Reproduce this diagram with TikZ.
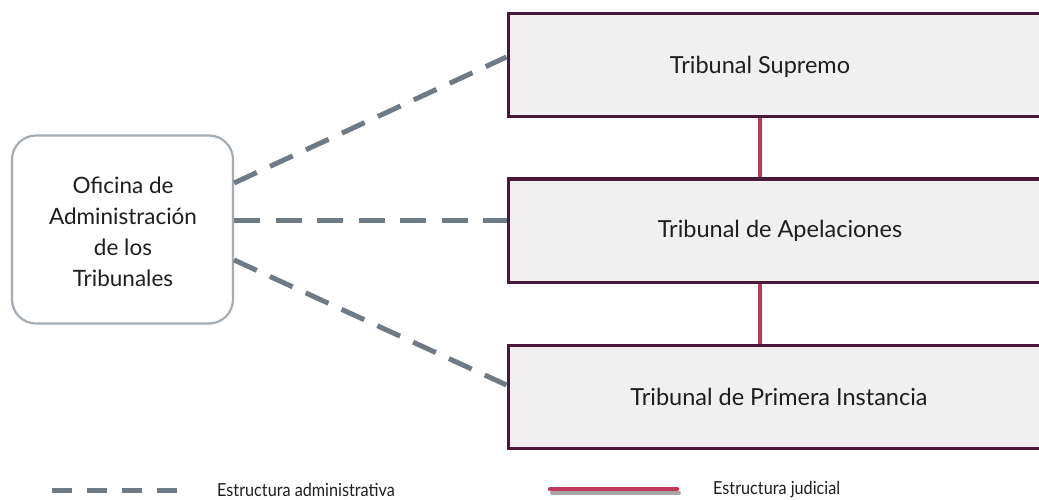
\documentclass[tikz,border=0pt]{standalone}
\usepackage{fontspec}
\setmainfont{Lato}
\definecolor{boxfill}{HTML}{F0F0F0}
\definecolor{boxline}{HTML}{4A1838}
\definecolor{adminc}{HTML}{6E7B87}
\definecolor{judc}{HTML}{C0385A}
\definecolor{officeline}{HTML}{A3ABB3}
\definecolor{txtc}{HTML}{1E1E1E}
\begin{document}
\begin{tikzpicture}[x=1pt,y=-1pt,
  court/.style={draw=boxline, line width=3pt, fill=boxfill, minimum width=542pt, minimum height=103pt, inner sep=0pt},
  office/.style={draw=officeline, line width=2.2pt, fill=white, rounded corners=24pt, minimum width=221pt, minimum height=188pt, inner sep=0pt},
  lbl/.style={text=txtc, font=\fontsize{22.5}{31}\selectfont, inner sep=0pt, align=center},
  clbl/.style={text=txtc, font=\fontsize{23.5}{31}\selectfont, inner sep=0pt, align=center},
  leg/.style={text=txtc, font=\fontsize{18}{20}\selectfont, inner sep=0pt, anchor=west},
  admin/.style={draw=adminc, line width=5pt},
  judicial/.style={draw=judc, line width=4.5pt},
]
\useasboundingbox (0,0) rectangle (1039,500);
\begin{scope}
\clip (0,0) rectangle (1039,500);
% court boxes
\node[court] (sup) at (779,65.5) {};
\node[court] (app) at (779,230.5) {};
\node[court] (prim) at (779,397) {};
\end{scope}
\node[clbl] (supT) at (760,67) {Tribunal Supremo};
\node[clbl] (appT) at (780,231) {Tribunal de Apelaciones};
\node[clbl] (primT) at (779,397) {Tribunal de Primera Instancia};
% office
\node[office] (off) at (122.5,229.5) {};
\node[lbl] (offT) at (123,232) {Oficina de\\Administración\\de los\\Tribunales};
% judicial connectors
\draw[judicial] ([xshift=-19pt]sup.south) -- ([xshift=-19pt]app.north);
\draw[judicial] ([xshift=-19pt]app.south) -- ([xshift=-19pt]prim.north);
% administrative connectors
\draw[admin, dash pattern=on 25pt off 14.6pt] ([yshift=46.5pt]off.east) -- ([yshift=8.5pt]sup.west);
\draw[admin, dash pattern=on 26pt off 15.5pt] ([yshift=9.5pt]off.east) -- ([yshift=10.5pt]app.west);
\draw[admin, dash pattern=on 25pt off 14.4pt] ([yshift=-30.5pt]off.east) -- ([yshift=12pt]prim.west);
% legend
\coordinate (la) at (52,490);
\coordinate (lb) at (177,490);
\draw[draw=adminc, line width=5pt, dash pattern=on 20pt off 15pt] (la) -- (lb);
\node[leg] (legA) at (217,490) {\scalebox{0.9}[1]{Estructura administrativa}};
\coordinate (lc) at (552,492.5);
\coordinate (ld) at (679,492.5);
\coordinate (le) at (550,489);
\coordinate (lf) at (677,489);
\draw[draw=black!35, line width=4pt, line cap=round] (lc) -- (ld);
\draw[judicial, line cap=round] (le) -- (lf);
\node[leg] (legB) at (713,490) {\scalebox{0.9}[1]{Estructura judicial}};
\end{tikzpicture}
\end{document}
